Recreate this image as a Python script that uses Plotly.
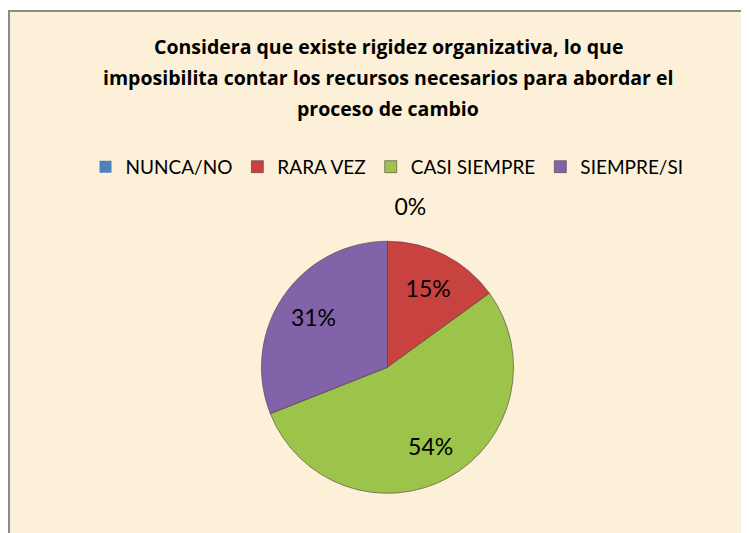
import plotly.graph_objects as go

W, H = 749, 533
OFF = 8  # page body margin

categories = ["NUNCA/NO", "RARA VEZ", "CASI SIEMPRE", "SIEMPRE/SI"]
percent_values = [0, 15, 54, 31]
slice_colors = ["#4F81BD", "#C8423F", "#9CC34A", "#8263A9"]
title_lines = [
    "Considera que existe rigidez organizativa, lo que",
    "imposibilita contar los recursos necesarios para abordar el",
    "proceso de cambio",
]

FONT = "Lato, Calibri, Carlito, sans-serif"
TFONT = "'Open Sans', Calibri, sans-serif"
BG = "#FCF0D8"

def px_x(x):
    return (x - OFF) / W

def px_y(y):
    return (H - (y - OFF)) / H

cx, cy, r = 387.5, 370, 127
pull0 = 0.17
half = r * (1 + pull0)
dom = dict(x=[px_x(cx - half), px_x(cx + half)], y=[px_y(cy + half), px_y(cy - half)])

fig = go.Figure()
# filled pie with the outside 0% label
fig.add_trace(go.Pie(
    labels=categories,
    values=percent_values,
    sort=False,
    direction="clockwise",
    rotation=0,
    pull=[pull0, 0, 0, 0],
    marker=dict(colors=slice_colors,
                line=dict(color="rgba(70,50,60,0.55)", width=[0, 1, 1, 1])),
    texttemplate=["%{value}%", "", "", ""],
    textposition=["outside", "none", "none", "none"],
    textfont=dict(family=FONT, size=23, color="#000000"),
    hoverinfo="label+percent",
    domain=dom,
    showlegend=True,
))
# transparent ring carrying the inside labels (places them farther from centre)
fig.add_trace(go.Pie(
    labels=categories,
    values=percent_values,
    sort=False,
    direction="clockwise",
    rotation=0,
    hole=0.42,
    pull=[pull0, 0, 0, 0],
    marker=dict(colors=["rgba(0,0,0,0)"] * 4, line=dict(width=0)),
    texttemplate=["", "%{value}%", "%{value}%", "%{value}%"],
    textposition=["none", "inside", "inside", "inside"],
    insidetextorientation="horizontal",
    textfont=dict(family=FONT, size=23, color="#000000"),
    hoverinfo="skip",
    domain=dom,
    showlegend=False,
))

annotations = []
for i, line in enumerate(title_lines):
    annotations.append(dict(
        text=f"<b>{line}</b>", x=px_x(388), y=px_y(47 + i * 31),
        xref="paper", yref="paper", xanchor="center", yanchor="middle",
        showarrow=False, font=dict(family=TFONT, size=19.5, color="#000000"),
    ))

fig.update_layout(
    width=W, height=H,
    margin=dict(l=0, r=0, t=0, b=0),
    paper_bgcolor="#FFFFFF",
    plot_bgcolor=BG,
    shapes=[dict(
        type="rect", xref="paper", yref="paper",
        x0=px_x(9), x1=px_x(W + 40), y0=px_y(H + 40), y1=px_y(11),
        fillcolor=BG, line=dict(color="#8A8A8A", width=2), layer="below",
    )],
    annotations=annotations,
    legend=dict(
        orientation="h", x=px_x(387), y=px_y(168), xanchor="center", yanchor="middle",
        font=dict(family=FONT, size=19, color="#000000"),
        bgcolor="rgba(0,0,0,0)", itemwidth=30, traceorder="normal",
    ),
)

fig.write_html("out.html")
